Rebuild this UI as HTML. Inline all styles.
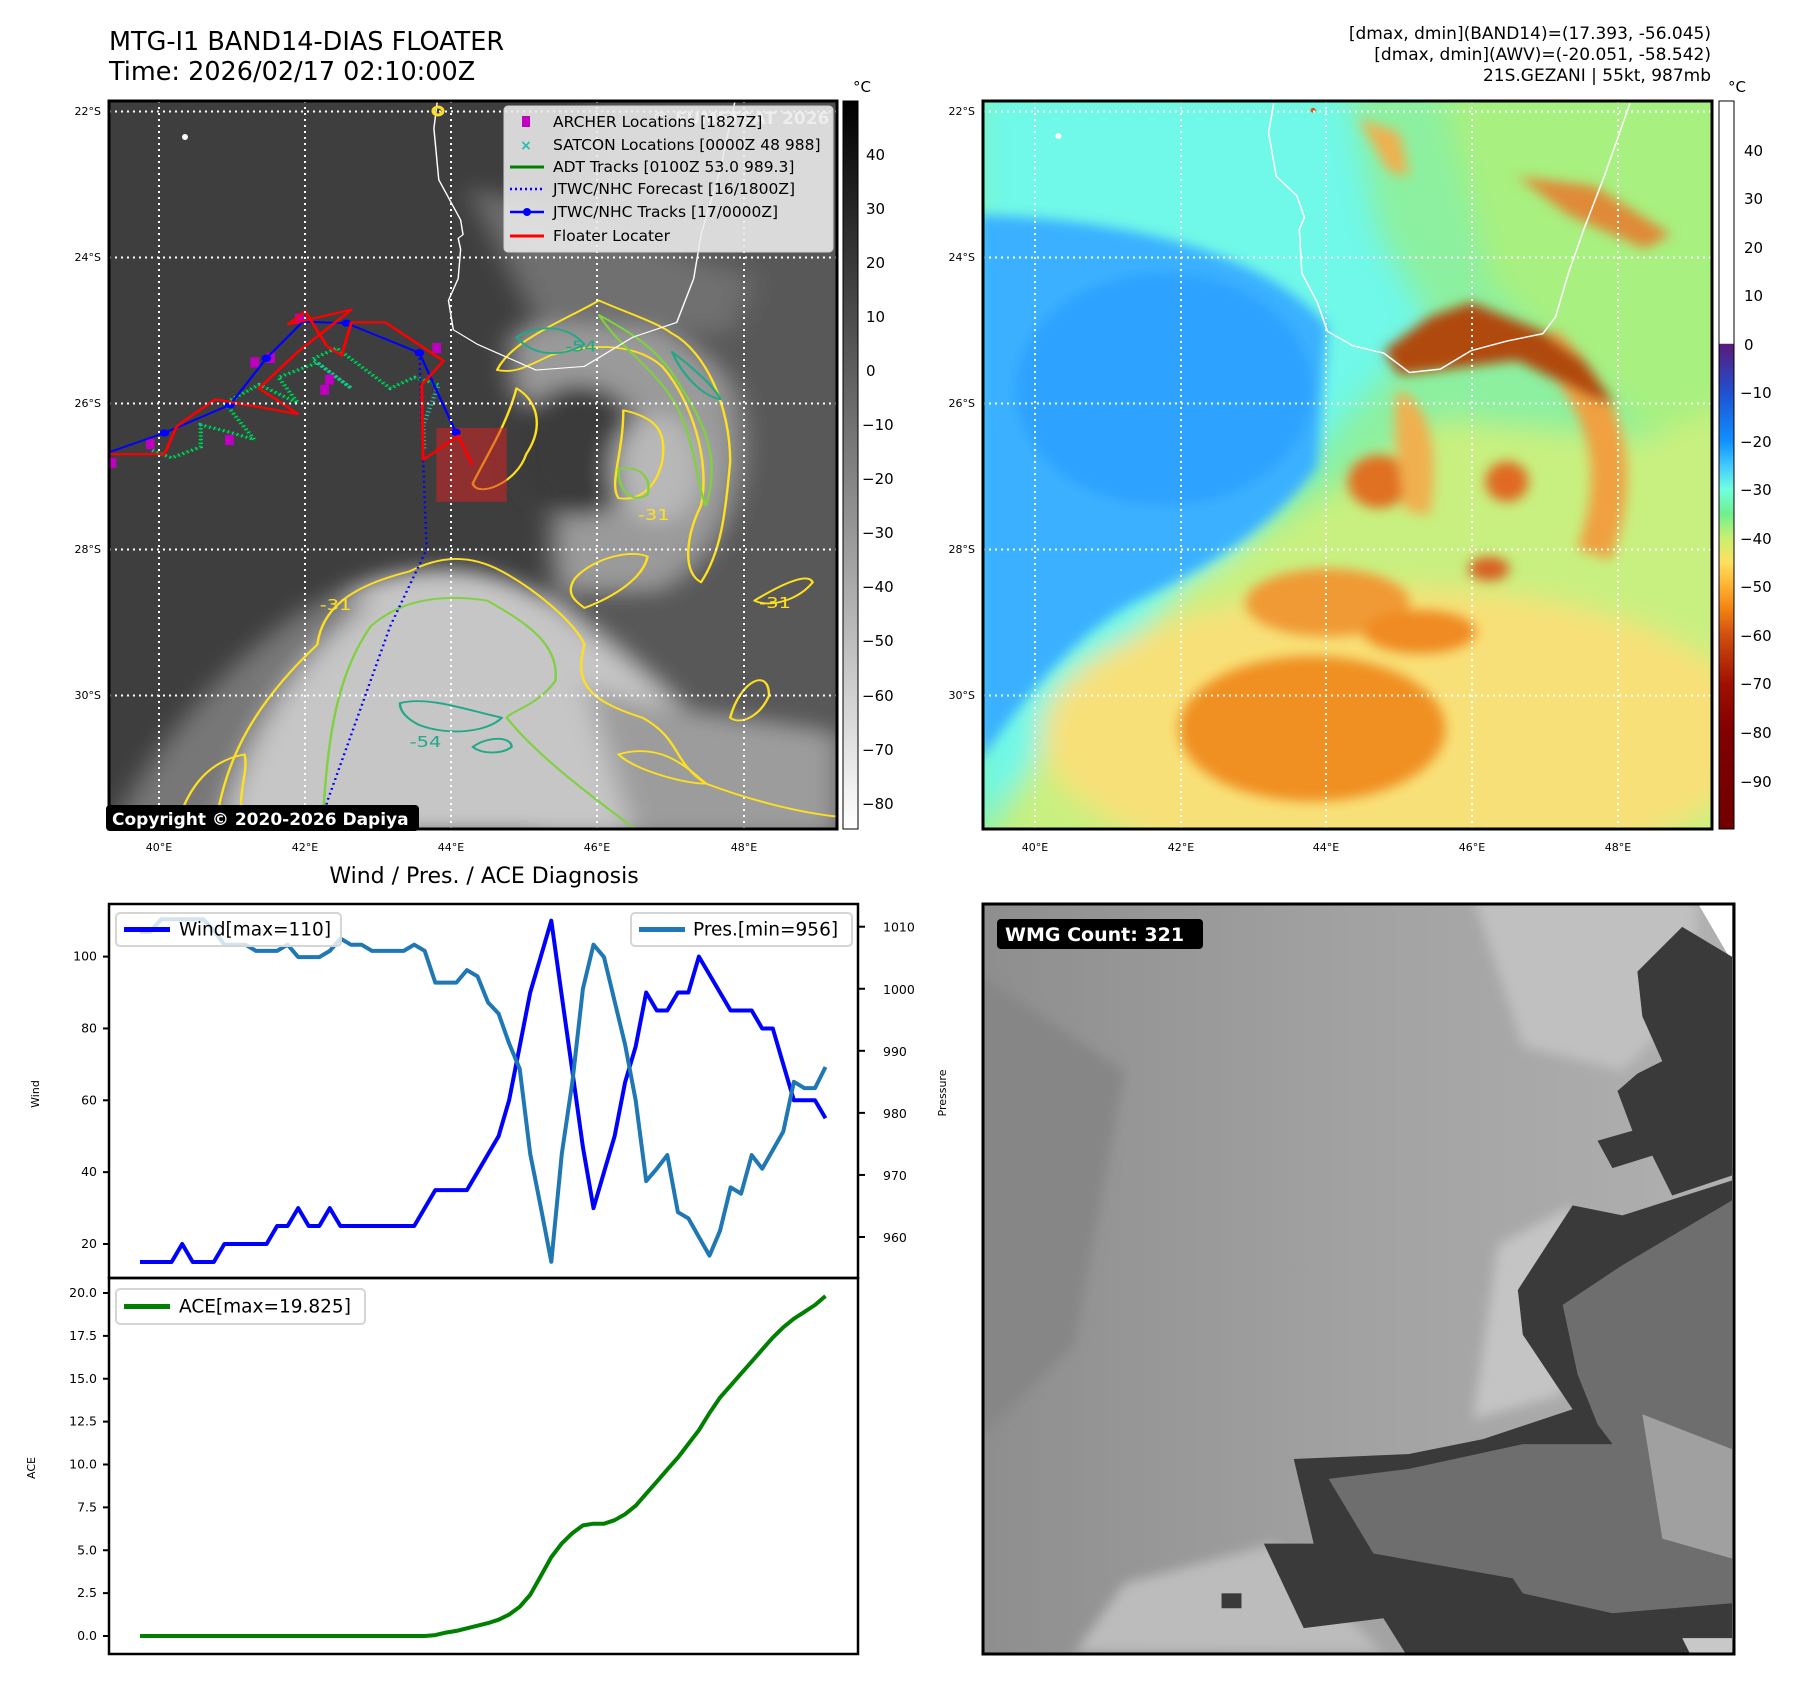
<!DOCTYPE html>
<html><head><meta charset="utf-8"><title>MTG-I1 BAND14-DIAS FLOATER</title>
<style>
html,body{margin:0;padding:0;background:#fff;}
body{width:1801px;height:1690px;overflow:hidden;font-family:"DejaVu Sans","Liberation Sans",sans-serif;}
svg text{font-family:"DejaVu Sans","Liberation Sans",sans-serif;}
</style></head>
<body>
<svg id="fig" xmlns="http://www.w3.org/2000/svg" width="1801" height="1690" viewBox="0 0 1801 1690">
<defs>
  <filter id="blur1" x="-20%" y="-20%" width="140%" height="140%"><feGaussianBlur stdDeviation="28"/></filter>
  <filter id="blur2" x="-20%" y="-20%" width="140%" height="140%"><feGaussianBlur stdDeviation="12"/></filter>
  <clipPath id="clipL"><rect x="109" y="101" width="728" height="728"/></clipPath>
  <clipPath id="clipR"><rect x="983" y="101" width="729" height="728"/></clipPath>
  <clipPath id="clipB"><rect x="983" y="904" width="751" height="750"/></clipPath>
  <linearGradient id="cbGray" x1="0" y1="0" x2="0" y2="1">
    <stop offset="0" stop-color="#000"/><stop offset="1" stop-color="#fff"/>
  </linearGradient>
  <linearGradient id="cbJet" x1="0" y1="0" x2="0" y2="1">
    <stop offset="0" stop-color="#fff"/><stop offset="0.333" stop-color="#fff"/>
    <stop offset="0.334" stop-color="#5a1a7a"/><stop offset="0.40" stop-color="#2050d0"/>
    <stop offset="0.467" stop-color="#1090ff"/><stop offset="0.50" stop-color="#40c8ff"/>
    <stop offset="0.533" stop-color="#70ffe0"/><stop offset="0.567" stop-color="#70f090"/>
    <stop offset="0.60" stop-color="#c8f070"/><stop offset="0.633" stop-color="#ffe060"/>
    <stop offset="0.667" stop-color="#ffb030"/><stop offset="0.70" stop-color="#f08010"/>
    <stop offset="0.733" stop-color="#d05010"/><stop offset="0.80" stop-color="#a01000"/>
    <stop offset="0.867" stop-color="#800000"/><stop offset="1" stop-color="#700000"/>
  </linearGradient>
  <linearGradient id="bGrad" x1="0" y1="0" x2="1" y2="0">
    <stop offset="0" stop-color="#8e8e8e"/><stop offset="0.5" stop-color="#a2a2a2"/><stop offset="1" stop-color="#b0b0b0"/>
  </linearGradient>
</defs>

<!-- Titles -->
<text x="109" y="50" font-size="25.5" fill="#000">MTG-I1 BAND14-DIAS FLOATER</text>
<text x="109" y="80" font-size="25.5" fill="#000">Time: 2026/02/17 02:10:00Z</text>
<text x="1711" y="39" font-size="17" text-anchor="end">[dmax, dmin](BAND14)=(17.393, -56.045)</text>
<text x="1711" y="60" font-size="17" text-anchor="end">[dmax, dmin](AWV)=(-20.051, -58.542)</text>
<text x="1711" y="81" font-size="17" text-anchor="end">21S.GEZANI | 55kt, 987mb</text>

<!-- LEFT MAP -->
<g clip-path="url(#clipL)">
  <rect x="109" y="101" width="728" height="728" fill="#3e3e3e"/>
  <svg x="109" y="101" width="728" height="728" viewBox="21 -485 1499 1989" preserveAspectRatio="none">
    <g filter="url(#blur1)">
      <path d="M1000,-485 L1560,-485 L1560,1560 L900,1560 Z" fill="#585858"/>
      <path d="M850,150 C1000,60 1200,100 1300,300 C1350,500 1300,750 1150,850 L950,850 C900,700 1000,500 850,300 Z" fill="#9a9a9a"/>
      <path d="M760,-250 C900,-200 1050,-150 1200,-60 L1350,0 L1300,150 L900,120 Z" fill="#707070"/>
      <ellipse cx="990" cy="470" rx="130" ry="180" fill="#3a3a3a"/>
      <path d="M150,1520 C250,1200 350,950 550,830 C700,760 850,800 950,900 C1050,1000 1150,1100 1250,1250 C1350,1400 1450,1480 1520,1520 Z" fill="#c6c6c6"/>
      <path d="M20,1520 C100,1300 250,1050 450,880 L560,880 C400,1050 300,1250 250,1520 Z" fill="#777"/>
      <path d="M1000,1100 C1150,1200 1350,1200 1520,1250 L1520,1520 L1100,1520 Z" fill="#9c9c9c"/>
      <ellipse cx="1150" cy="520" rx="90" ry="150" fill="#b8b8b8"/>
    </g>
    <g fill="none" stroke-width="5" stroke-linejoin="round">
      <path d="M820,250 C850,170 950,120 1030,60 C1080,90 1150,120 1180,150 C1250,200 1300,350 1300,500 C1290,650 1280,750 1240,830 C1200,800 1210,700 1240,620 C1260,500 1220,330 1160,240 C1100,170 1000,180 930,210 C880,240 860,260 820,250 Z" stroke="#ffe020"/>
      <path d="M1080,360 C1150,380 1170,420 1160,500 C1150,560 1120,610 1070,600 C1050,560 1080,480 1080,360 Z" stroke="#ffe020"/>
      <path d="M860,300 C900,330 920,400 880,480 C860,560 780,600 770,560 C800,480 840,400 860,300 Z" stroke="#ffe020"/>
      <path d="M240,1500 C260,1300 330,1150 450,1000 C460,900 520,840 640,800 C700,760 760,750 830,800 C900,850 980,940 1000,1000 C980,1100 1000,1150 1120,1200 C1200,1260 1180,1320 1250,1380 C1350,1430 1450,1460 1520,1470" stroke="#ffe020"/>
      <path d="M160,1500 C180,1400 220,1320 300,1300 C310,1350 280,1420 300,1480" stroke="#ffe020"/>
      <path d="M980,820 C1020,760 1100,740 1130,760 C1120,820 1060,870 1000,900 C980,880 960,860 980,820 Z" stroke="#ffe020"/>
      <path d="M1300,1200 C1320,1100 1380,1060 1380,1140 C1360,1200 1320,1220 1300,1200 Z" stroke="#ffe020"/>
      <path d="M1350,880 C1400,840 1460,800 1470,830 C1440,880 1380,900 1350,880 Z" stroke="#ffe020"/>
      <path d="M1070,1300 C1150,1270 1200,1320 1250,1380 C1200,1380 1100,1340 1070,1300 Z" stroke="#ffe020"/>
      <path d="M460,1500 C470,1300 480,1100 560,950 C620,880 700,860 800,880 C880,940 950,1000 940,1100 C900,1170 850,1180 840,1200 C900,1300 1000,1400 1100,1500" stroke="#80d040"/>
      <path d="M1030,100 C1100,150 1160,200 1200,300 C1250,400 1280,500 1250,620 C1230,560 1230,450 1190,350 C1150,250 1080,200 1030,100 Z" stroke="#80d040"/>
      <path d="M1070,520 C1110,510 1140,540 1130,590 C1110,610 1070,600 1070,520 Z" stroke="#80d040"/>
      <path d="M860,160 C900,130 960,120 1000,180 C960,210 900,220 860,160 Z" stroke="#20a888"/>
      <path d="M1180,200 C1230,250 1270,300 1280,330 C1240,320 1200,260 1180,200 Z" stroke="#20a888"/>
      <path d="M620,1160 C680,1140 760,1180 830,1200 C800,1240 720,1250 660,1220 C630,1200 620,1180 620,1160 Z" stroke="#20a888"/>
      <path d="M770,1280 C800,1250 850,1250 850,1280 C830,1300 790,1300 770,1280 Z" stroke="#20a888"/>
    </g>
    <g font-size="40" fill="#ffe020">
      <text x="455" y="905">-31</text><text x="1110" y="660">-31</text><text x="1360" y="900">-31</text>
    </g>
    <g font-size="40" fill="#20a888"><text x="640" y="1280">-54</text><text x="960" y="200">-54</text></g>
    <path d="M697,-485 L690,-410 L700,-270 L745,-160 L750,-120 L740,-110 L745,-80 L740,0 L720,60 L730,140 L780,180 L900,250 L1000,240 L1100,160 L1190,120 L1225,0 L1240,-120 L1280,-300 L1310,-485" fill="none" stroke="#fff" stroke-width="3"/>
    <rect x="695" y="408" width="145" height="202" fill="#e02020" fill-opacity="0.5"/>
    <polyline points="110,470 150,490 210,460 210,400 270,420 320,440 260,340 330,290 410,340 370,270 450,230 520,300 440,220 490,190 600,300 650,270 700,290" fill="none" stroke="#008000" stroke-width="5"/>
    <polyline points="110,470 150,490 210,460 210,400 270,420 320,440 260,340 330,290 410,340 370,270 450,230 520,300 440,220 490,190 600,300 650,270 700,290 668,400 670,470" fill="none" stroke="#20c0b0" stroke-width="9" stroke-dasharray="3 7"/>
    <g fill="#c000c0">
      <rect x="312" y="215" width="18" height="28"/><rect x="345" y="203" width="18" height="28"/><rect x="456" y="290" width="18" height="28"/><rect x="466" y="262" width="18" height="28"/><rect x="260" y="427" width="18" height="28"/><rect x="97" y="438" width="18" height="28"/><rect x="18" y="490" width="18" height="28"/><rect x="687" y="176" width="18" height="28"/><rect x="404" y="96" width="18" height="28"/>
    </g>
    <polyline points="660,203 668,500 675,740 600,950 470,1430 455,1520" fill="none" stroke="#0000ff" stroke-width="5" stroke-dasharray="5 9"/>
    <polyline points="20,475 135,422 270,345 345,218 420,118 510,122 660,203 735,420" fill="none" stroke="#0000ff" stroke-width="5"/>
    <g fill="#0000ff"><circle cx="135" cy="422" r="10"/><circle cx="270" cy="345" r="10"/><circle cx="345" cy="218" r="10"/><circle cx="510" cy="122" r="10"/><circle cx="660" cy="203" r="10"/><circle cx="735" cy="420" r="10"/></g>
    <polyline points="20,480 135,480 160,405 180,385 240,330 410,370 330,300 410,200 520,85 390,125 425,90 470,185 500,210 520,120 590,120 710,225 665,290 668,495 740,430 770,510" fill="none" stroke="#ff0000" stroke-width="6" stroke-linejoin="round"/>
  </svg>
  <g stroke="#fff" stroke-width="2" stroke-dasharray="2 4">
    <line x1="159" y1="101" x2="159" y2="829"/><line x1="305" y1="101" x2="305" y2="829"/><line x1="451" y1="101" x2="451" y2="829"/><line x1="597" y1="101" x2="597" y2="829"/><line x1="744" y1="101" x2="744" y2="829"/>
    <line x1="109" y1="111.5" x2="837" y2="111.5"/><line x1="109" y1="257.5" x2="837" y2="257.5"/><line x1="109" y1="403.5" x2="837" y2="403.5"/><line x1="109" y1="549.5" x2="837" y2="549.5"/><line x1="109" y1="695.5" x2="837" y2="695.5"/>
  </g>
  <ellipse cx="438" cy="111" rx="5" ry="4" fill="none" stroke="#ffe020" stroke-width="3"/>
  <circle cx="185" cy="137" r="3" fill="#fff"/>
  <text x="652" y="124" font-size="17" font-weight="bold" fill="#f0f0f0">© EUMETSAT 2026</text>
</g>
<g>
  <rect x="504" y="106" width="329" height="146" rx="4" fill="#ececec" fill-opacity="0.88" stroke="#d0d0d0"/>
  <rect x="522" y="116" width="8" height="11" fill="#c000c0"/>
  <text x="526" y="150" font-size="14" font-weight="bold" fill="#20c0b0" text-anchor="middle">×</text>
  <line x1="510" y1="167" x2="544" y2="167" stroke="#008000" stroke-width="3"/>
  <line x1="510" y1="189" x2="544" y2="189" stroke="#0000ff" stroke-width="2.5" stroke-dasharray="2 3"/>
  <line x1="510" y1="212" x2="544" y2="212" stroke="#0000ff" stroke-width="2.5"/><circle cx="527" cy="212" r="4" fill="#0000ff"/>
  <line x1="510" y1="236" x2="544" y2="236" stroke="#ff0000" stroke-width="3"/>
  <g font-size="15.5" fill="#000">
    <text x="553" y="127">ARCHER Locations [1827Z]</text>
    <text x="553" y="150">SATCON Locations [0000Z 48 988]</text>
    <text x="553" y="172">ADT Tracks [0100Z 53.0 989.3]</text>
    <text x="553" y="194">JTWC/NHC Forecast [16/1800Z]</text>
    <text x="553" y="217">JTWC/NHC Tracks [17/0000Z]</text>
    <text x="553" y="241">Floater Locater</text>
  </g>
</g>
<rect x="109" y="101" width="728" height="728" fill="none" stroke="#000" stroke-width="3"/>
<g>
  <rect x="106" y="805" width="313" height="26" rx="4" fill="#000"/>
  <text x="112" y="825" font-size="17" font-weight="bold" fill="#fff">Copyright © 2020-2026 Dapiya</text>
</g>
<g font-size="11" fill="#000">
  <text x="101" y="115" text-anchor="end">22°S</text><text x="101" y="261" text-anchor="end">24°S</text><text x="101" y="407" text-anchor="end">26°S</text><text x="101" y="553" text-anchor="end">28°S</text><text x="101" y="699" text-anchor="end">30°S</text>
  <text x="159" y="851" text-anchor="middle">40°E</text><text x="305" y="851" text-anchor="middle">42°E</text><text x="451" y="851" text-anchor="middle">44°E</text><text x="597" y="851" text-anchor="middle">46°E</text><text x="744" y="851" text-anchor="middle">48°E</text>
</g>
<g>
  <rect x="843" y="101" width="15" height="728" fill="url(#cbGray)" stroke="#000" stroke-width="1"/>
  <text x="853" y="92" font-size="15">°C</text>
  <g font-size="15">
    <text x="866" y="160">40</text><text x="866" y="214">30</text><text x="866" y="268">20</text><text x="866" y="322">10</text><text x="866" y="376">0</text>
    <text x="862" y="430">−10</text><text x="862" y="484">−20</text><text x="862" y="538">−30</text><text x="862" y="592">−40</text><text x="862" y="646">−50</text><text x="862" y="701">−60</text><text x="862" y="755">−70</text><text x="862" y="809">−80</text>
  </g>
</g>

<!-- RIGHT MAP -->
<g clip-path="url(#clipR)">
  <rect x="983" y="101" width="729" height="728" fill="#8cf0a0"/>
  <svg x="979" y="89" width="799" height="758" viewBox="0 0 1559 1564" preserveAspectRatio="none">
    <g filter="url(#blur1)">
      <path d="M900,0 L1500,0 L1500,700 L1300,700 L1000,400 Z" fill="#a8f080"/>
      <path d="M0,0 L720,0 L780,300 L880,480 L700,700 L500,950 L0,1520 Z" fill="#70f8e8"/>
      <path d="M0,1600 L150,1300 L400,1020 L700,820 L900,680 L1300,720 L1500,640 L1500,1600 Z" fill="#c8f080"/>
      <ellipse cx="820" cy="1330" rx="700" ry="300" fill="#f8e078"/>
    </g>
    <g filter="url(#blur2)">
      <path d="M0,260 C300,270 560,340 680,490 L660,780 C560,920 420,1000 320,1050 C200,1110 90,1250 0,1390 Z" fill="#3ab0ff"/>
      <ellipse cx="360" cy="620" rx="290" ry="240" fill="#2ea2ff"/>
      <ellipse cx="650" cy="1320" rx="260" ry="150" fill="#f09024"/>
      <ellipse cx="680" cy="1060" rx="160" ry="70" fill="#f09a34"/>
      <ellipse cx="860" cy="1120" rx="110" ry="45" fill="#f08a24"/>
      <ellipse cx="780" cy="810" rx="60" ry="55" fill="#e07020"/>
      <ellipse cx="1030" cy="810" rx="42" ry="42" fill="#e06a20"/>
      <ellipse cx="995" cy="990" rx="40" ry="25" fill="#d86020"/>
      <path d="M1100,520 Q1290,700 1200,960" fill="none" stroke="#f0a040" stroke-width="70"/>
      <path d="M790,540 L880,470 L960,440 L1100,500 L1180,560 L1240,650 L1200,640 L1050,560 L900,580 L820,590 Z" fill="#b04808"/>
      <path d="M1050,180 L1200,200 L1350,300 L1300,330 L1150,260 Z" fill="#e08a38"/>
      <path d="M740,60 L820,90 L840,180 L800,170 Z" fill="#f0b050"/>
      <path d="M820,620 C880,650 900,750 880,880 L830,870 C820,760 800,680 820,620 Z" fill="#f0b050"/>
    </g>
    <path d="M575,30 L565,90 L580,180 L620,220 L635,265 L625,290 L630,380 L660,440 L680,500 L730,530 L790,545 L840,585 L900,578 L960,540 L1030,520 L1100,505 L1125,470 L1150,380 L1180,290 L1220,180 L1270,30" fill="none" stroke="#fff" stroke-width="3"/>
    <circle cx="155" cy="97" r="6" fill="#fff"/>
    <circle cx="652" cy="44" r="5" fill="#e05010"/>
  </svg>
  <g stroke="#fff" stroke-width="2" stroke-dasharray="2 4">
    <line x1="1035" y1="101" x2="1035" y2="829"/><line x1="1181" y1="101" x2="1181" y2="829"/><line x1="1326" y1="101" x2="1326" y2="829"/><line x1="1472" y1="101" x2="1472" y2="829"/><line x1="1618" y1="101" x2="1618" y2="829"/>
    <line x1="983" y1="111.5" x2="1712" y2="111.5"/><line x1="983" y1="257.5" x2="1712" y2="257.5"/><line x1="983" y1="403.5" x2="1712" y2="403.5"/><line x1="983" y1="549.5" x2="1712" y2="549.5"/><line x1="983" y1="695.5" x2="1712" y2="695.5"/>
  </g>
</g>
<rect x="983" y="101" width="729" height="728" fill="none" stroke="#000" stroke-width="3"/>
<g font-size="11" fill="#000">
  <text x="975" y="115" text-anchor="end">22°S</text><text x="975" y="261" text-anchor="end">24°S</text><text x="975" y="407" text-anchor="end">26°S</text><text x="975" y="553" text-anchor="end">28°S</text><text x="975" y="699" text-anchor="end">30°S</text>
  <text x="1035" y="851" text-anchor="middle">40°E</text><text x="1181" y="851" text-anchor="middle">42°E</text><text x="1326" y="851" text-anchor="middle">44°E</text><text x="1472" y="851" text-anchor="middle">46°E</text><text x="1618" y="851" text-anchor="middle">48°E</text>
</g>
<g>
  <rect x="1719" y="101" width="15" height="728" fill="url(#cbJet)" stroke="#000" stroke-width="1"/>
  <text x="1728" y="92" font-size="15">°C</text>
  <g font-size="15">
    <text x="1744" y="156">40</text><text x="1744" y="204">30</text><text x="1744" y="253">20</text><text x="1744" y="301">10</text><text x="1744" y="350">0</text>
    <text x="1740" y="398">−10</text><text x="1740" y="447">−20</text><text x="1740" y="495">−30</text><text x="1740" y="544">−40</text><text x="1740" y="592">−50</text><text x="1740" y="641">−60</text><text x="1740" y="689">−70</text><text x="1740" y="738">−80</text><text x="1740" y="787">−90</text>
  </g>
</g>

<!-- BOTTOM RIGHT WMG -->
<g clip-path="url(#clipB)">
  <rect x="983" y="904" width="751" height="750" fill="url(#bGrad)"/>
  <svg x="983" y="904" width="751" height="750" viewBox="16 14 1508 1508" preserveAspectRatio="none">
    <g filter="url(#blur2)">
      <path d="M1000,0 L1450,0 L1450,200 L1300,350 L1100,300 Z" fill="#c0c0c0"/>
      <path d="M0,150 L300,350 L200,900 L0,1100 Z" fill="#868686"/>
      <path d="M300,1380 L600,1300 L820,1520 L200,1520 Z" fill="#bcbcbc"/>
      <path d="M1050,700 L1200,620 L1180,1000 L1000,1050 Z" fill="#c4c4c4"/>
    </g>
    <path d="M1450,10 L1520,10 L1520,130 Z" fill="#fff"/>
    <path d="M1330,150 L1420,60 L1520,120 L1520,560 L1400,600 L1360,520 L1280,545 L1250,490 L1320,470 L1290,390 L1330,355 L1380,330 L1340,240 Z" fill="#3a3a3a"/>
    <path d="M1090,790 L1200,620 L1300,640 L1520,570 L1520,1530 L870,1530 L820,1450 L660,1470 L580,1300 L680,1300 L640,1130 L870,1120 L1020,1090 L1200,1030 L1100,880 Z" fill="#3a3a3a"/>
    <path d="M1180,820 L1300,740 L1520,610 L1520,1420 L1280,1440 L1100,1400 L1080,1370 L800,1320 L710,1170 L870,1150 L1100,1100 L1280,1100 L1250,1060 L1210,960 Z" fill="#6e6e6e"/>
    <path d="M1340,1040 L1520,1110 L1520,1330 L1380,1290 Z" fill="#a0a0a0"/>
    <rect x="495" y="1400" width="40" height="30" fill="#3a3a3a"/>
    <path d="M1420,1490 L1520,1490 L1520,1530 L1440,1530 Z" fill="#c8c8c8"/>
  </svg>
</g>
<rect x="983" y="904" width="751" height="750" fill="none" stroke="#000" stroke-width="3"/>
<g>
  <rect x="997" y="919" width="206" height="30" rx="4" fill="#000"/>
  <text x="1005" y="941" font-size="19" font-weight="bold" fill="#fff">WMG Count: 321</text>
</g>

<text x="484" y="883" font-size="22" text-anchor="middle">Wind / Pres. / ACE Diagnosis</text>
<g id="charts"></g>
</svg>

<script>
const windValues = [15,15,15,15,20,15,15,15,20,20,20,20,20,25,25,30,25,25,30,25,25,25,25,25,25,25,25,30,35,35,35,35,40,45,50,60,75,90,100,110,89,68,47,30,40,50,65,75,90,85,85,90,90,100,95,90,85,85,85,80,80,70,60,60,60,55];
const presValues = [1009.2,1009.2,1011.2,1011.2,1011.2,1011.2,1011.2,1009.4,1007.1,1007.1,1007.1,1006.1,1006.1,1006.1,1007.1,1005.1,1005.1,1005.1,1006.1,1008.1,1007.1,1007.1,1006.1,1006.1,1006.1,1006.1,1007.1,1006.1,1001,1001,1001,1003,1002,997.8,996,991.2,987.1,973.4,964.8,956,973.4,985,1000,1007.1,1005.1,998,991,982,969,971,973.2,964,963,960,957,961,968,967,973.2,971,974,977,985,984,984,987.4];
const aceValues = [0,0,0,0,0,0,0,0,0,0,0,0,0,0,0,0,0,0,0,0,0,0,0,0,0,0,0,0,0.05,0.2,0.3,0.45,0.6,0.75,0.95,1.25,1.7,2.4,3.5,4.6,5.4,6.0,6.45,6.55,6.55,6.75,7.1,7.6,8.3,9.0,9.7,10.4,11.2,12.0,13.0,13.9,14.6,15.3,16.0,16.7,17.4,18.0,18.5,18.9,19.3,19.825];
const windTicks = [20,40,60,80,100];
const presTicks = [960,970,980,990,1000,1010];
const aceTicks = [0,2.5,5,7.5,10,12.5,15,17.5,20];

const NS = 'http://www.w3.org/2000/svg';
const root = document.getElementById('charts');
function mk(tag, attrs, parent){ const e=document.createElementNS(NS,tag); for(const k in attrs) e.setAttribute(k,attrs[k]); (parent||root).appendChild(e); return e; }

const AX = {l:109, r:858, t:904, m:1278, b:1654};
const n = windValues.length;
function xs(i){ return 140 + i*(825.5-140)/(n-1); }
function yWind(v){ return 1244 - (v-20)*(1244-956.6)/80; }
function yPres(v){ return 1237 - (v-960)*(1237-926.7)/50; }
function yAce(v){ return 1636 - v*(1636-1293)/20; }

const f1 = mk('rect',{x:AX.l,y:AX.t,width:AX.r-AX.l,height:AX.m-AX.t,fill:'none',stroke:'#000','stroke-width':2.5});


const f2 = mk('rect',{x:AX.l,y:AX.m,width:AX.r-AX.l,height:AX.b-AX.m,fill:'none',stroke:'#000','stroke-width':2.5});



windTicks.forEach(v=>{
  const y=yWind(v);
  const t=mk('line',{x1:AX.l-6,x2:AX.l,y1:y,y2:y,stroke:'#000','stroke-width':2});
  
  
  const l=mk('text',{x:AX.l-12,y:y+4,'font-size':12.5,'text-anchor':'end'});
  
  
  l.textContent=v;
});
presTicks.forEach(v=>{
  const y=yPres(v);
  const t=mk('line',{x1:AX.r,x2:AX.r+7,y1:y,y2:y,stroke:'#000','stroke-width':2});
  
  
  const l=mk('text',{x:AX.r+25,y:y+5,'font-size':12.5});
  
  
  l.textContent=v;
});
aceTicks.forEach(v=>{
  const y=yAce(v);
  const t=mk('line',{x1:AX.l-6,x2:AX.l,y1:y,y2:y,stroke:'#000','stroke-width':2});
  
  
  const l=mk('text',{x:AX.l-12,y:y+4,'font-size':12.5,'text-anchor':'end'});
  
  
  l.textContent=v.toFixed(1);
});

const yl1=mk('text',{x:39,y:1094,'font-size':11,'text-anchor':'middle',transform:'rotate(-90 39 1094)'});


yl1.textContent='Wind';
const yl2=mk('text',{x:946,y:1093,'font-size':11,'text-anchor':'middle',transform:'rotate(-90 946 1093)'});


yl2.textContent='Pressure';
const yl3=mk('text',{x:35,y:1468,'font-size':11,'text-anchor':'middle',transform:'rotate(-90 35 1468)'});


yl3.textContent='ACE';

function pts(arr, yf){ return arr.map((v,i)=>xs(i).toFixed(1)+','+yf(v).toFixed(1)).join(' '); }
const windLine=mk('polyline',{points:pts(windValues,yWind),fill:'none',stroke:'#0000ff','stroke-width':4,'stroke-linejoin':'round'});


const presLine=mk('polyline',{points:pts(presValues,yPres),fill:'none',stroke:'#1f77b4','stroke-width':4,'stroke-linejoin':'round'});


const aceLine=mk('polyline',{points:pts(aceValues,yAce),fill:'none',stroke:'#008000','stroke-width':4,'stroke-linejoin':'round'});



function legend(name,x,y,w,h,color,label,tx){
  const g=mk('g',{});
  
  
  mk('rect',{x:x,y:y,width:w,height:h,rx:4,fill:'#fff','fill-opacity':0.8,stroke:'#d5d5d5','stroke-width':2},g);
  mk('line',{x1:x+8,x2:x+54,y1:y+h/2,y2:y+h/2,stroke:color,'stroke-width':5},g);
  const t=mk('text',{x:tx,y:y+h/2+6,'font-size':18.5},g);
  t.textContent=label;
}
const windMax = Math.max(...windValues);
const presMin = Math.min(...presValues);
const aceMax = aceValues[aceValues.length-1];
legend('wind-legend',116,913,225,33,'#0000ff','Wind[max='+windMax+']',179);
legend('pressure-legend',631,913,221,33,'#1f77b4','Pres.[min='+Math.round(presMin)+']',693);
legend('ace-legend',116,1289,249,35,'#008000','ACE[max='+aceMax+']',179);
</script>
</body></html>
